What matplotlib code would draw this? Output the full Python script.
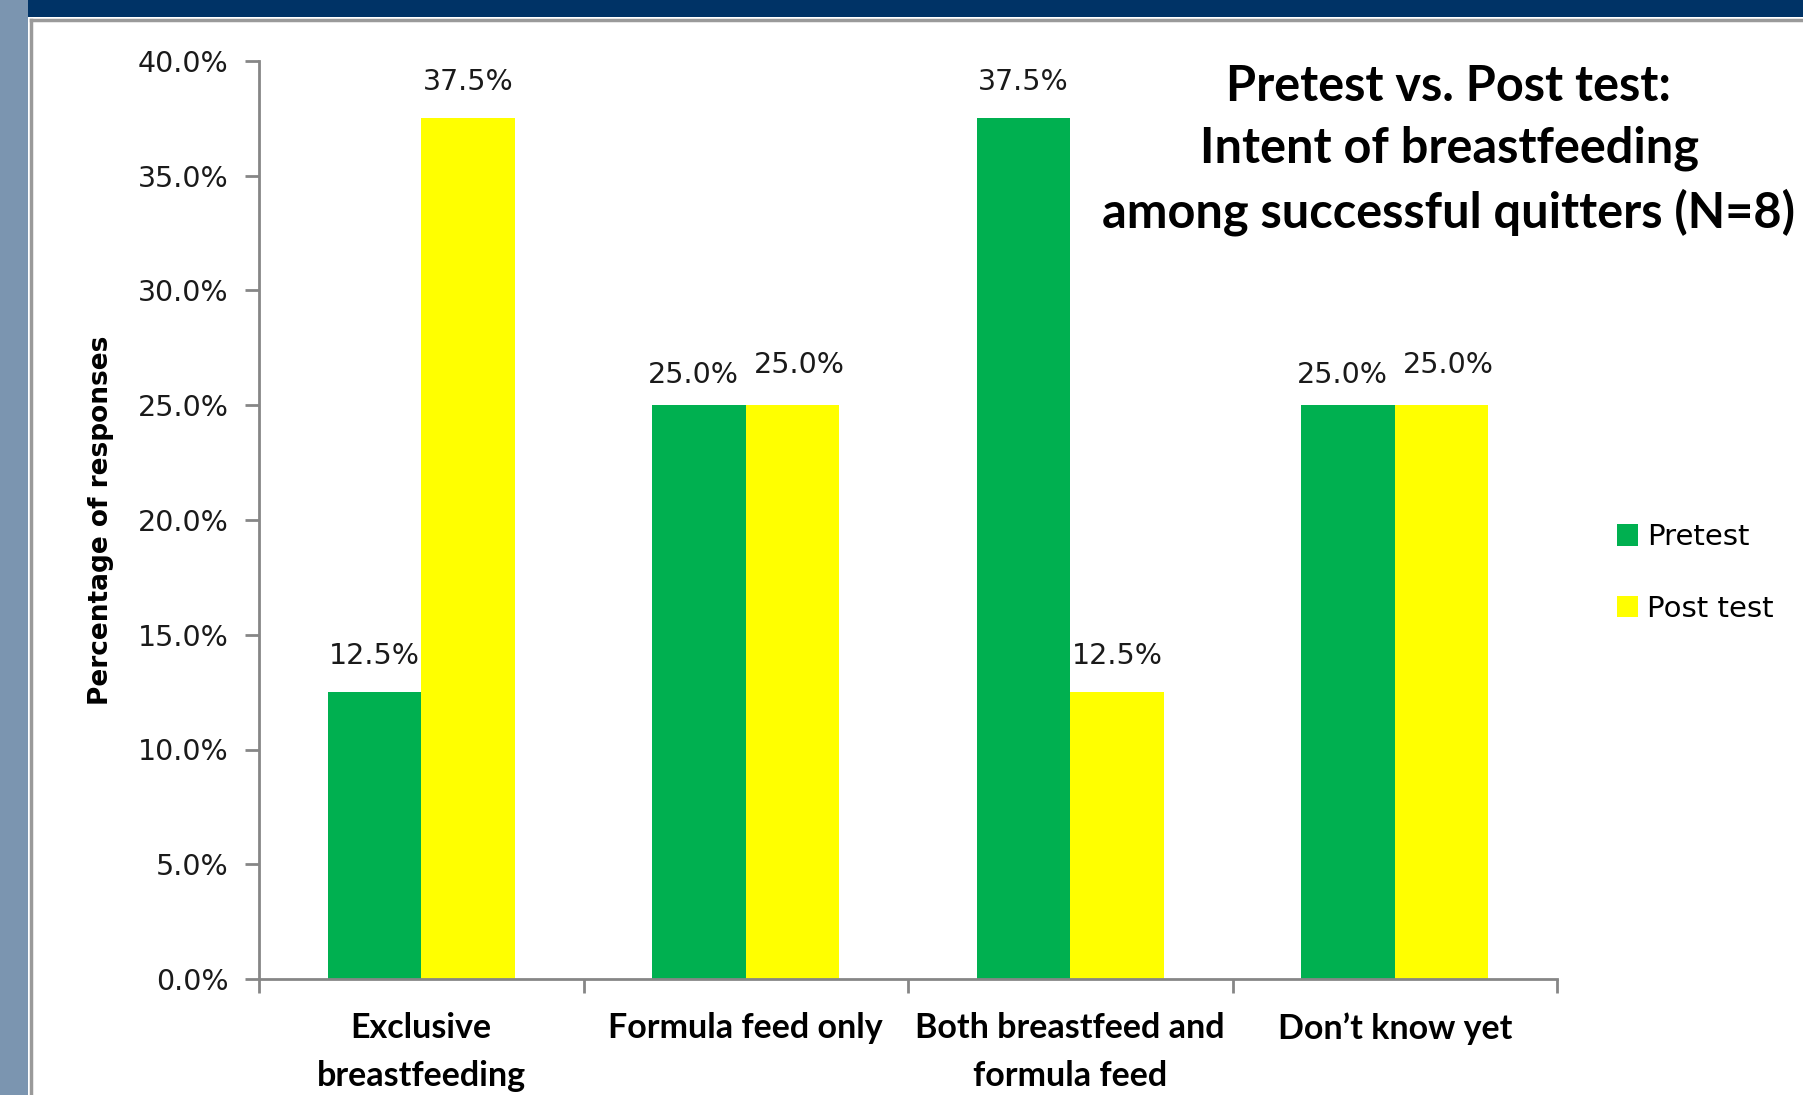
import matplotlib
matplotlib.use("Agg")
import matplotlib.pyplot as plt
from matplotlib.patches import Rectangle
from matplotlib.lines import Line2D
import numpy as np

categories = ["Exclusive\nbreastfeeding", "Formula feed only",
              "Both breastfeed and\nformula feed", "Don\u2019t know yet"]
pretest = [12.5, 25.0, 37.5, 25.0]
posttest = [37.5, 25.0, 12.5, 25.0]
series_names = ["Pretest", "Post test"]
yticks = [0, 5, 10, 15, 20, 25, 30, 35, 40]
title_text = "Pretest vs. Post test:\nIntent of breastfeeding\namong successful quitters (N=8)"
ylabel_text = "Percentage of responses"

W, H = 1803, 1095
fig = plt.figure(figsize=(W / 100, H / 100), dpi=100)
fig.patch.set_facecolor("white")

# slide decoration
fig.add_artist(Rectangle((0, 0), 28 / W, 1, transform=fig.transFigure,
                         facecolor="#7b95b0", edgecolor="none", zorder=0))
fig.add_artist(Rectangle((28 / W, 1 - 17 / H), 1, 17 / H, transform=fig.transFigure,
                         facecolor="#003366", edgecolor="none", zorder=0))
fig.add_artist(Line2D([31 / W, 31 / W], [0, 1 - 20 / H], transform=fig.transFigure,
                      color="#9a9a9a", lw=2.5, zorder=1))
fig.add_artist(Line2D([31 / W, 1], [1 - 20 / H, 1 - 20 / H], transform=fig.transFigure,
                      color="#9a9a9a", lw=2.5, zorder=1))

ax = fig.add_axes([259 / W, 1 - 979 / H, (1557 - 259) / W, (979 - 61) / H])
x = np.arange(len(categories))
bw = 0.288
green = "#00B050"
yellow = "#FFFF00"
b1 = ax.bar(x - bw / 2, pretest, bw, color=green, label=series_names[0], zorder=2)
b2 = ax.bar(x + bw / 2, posttest, bw, color=yellow, label=series_names[1], zorder=2)

for i, (bars, vals) in enumerate(((b1, pretest), (b2, posttest))):
    for j, (r, v) in enumerate(zip(bars, vals)):
        dx, dy = 0, 26
        # avoid overlapping labels when both bars of a group have equal height
        if pretest[j] == posttest[j]:
            dx, dy = (-4, 22) if i == 0 else (5, 29)
        ax.annotate(f"{v:.1f}%", (r.get_x() + r.get_width() / 2, v),
                    xytext=(dx, dy), textcoords="offset points",
                    ha="center", va="center", fontsize=20.5, color="#1a1a1a",
                    family="DejaVu Sans")

ax.set_xlim(-0.5, len(categories) - 0.5)
ax.set_ylim(0, 40)
ax.set_yticks(yticks)
ax.set_yticklabels([f"{t:.1f}%" for t in yticks], fontsize=20.5, color="#1a1a1a")
ax.set_xticks(np.arange(-0.5, len(categories), 1.0))
ax.set_xticklabels([])
ax.set_xticks(x, minor=True)
ax.set_xticklabels(categories, minor=True, fontsize=24.5, fontweight="bold",
                   family="Lato", linespacing=1.6)
ax.tick_params(axis="x", which="minor", length=0, pad=24)
ax.tick_params(axis="x", which="major", length=10, width=2, color="#868686", direction="out")
ax.tick_params(axis="y", length=10, width=2, color="#868686", pad=12, direction="out")
for s in ("top", "right"):
    ax.spines[s].set_visible(False)
for s in ("left", "bottom"):
    ax.spines[s].set_color("#868686")
    ax.spines[s].set_linewidth(2)

fig.text(101 / W, 1 - 520 / H, ylabel_text, rotation=90, ha="center", va="center",
         fontsize=19, fontweight="bold", family="DejaVu Sans", color="black")

fig.text(1449 / W, 1 - 150 / H, title_text, ha="center", va="center",
         fontsize=35, fontweight="bold", family="Lato", linespacing=1.45)

leg = fig.legend(handles=[b1, b2], labels=series_names, loc="center left",
                 bbox_to_anchor=(1602 / W, 1 - 573 / H), frameon=False,
                 fontsize=21, handlelength=0.75, handleheight=0.75,
                 handletextpad=0.3, labelspacing=1.5, borderpad=0)

fig.savefig("out.png", dpi=100)
